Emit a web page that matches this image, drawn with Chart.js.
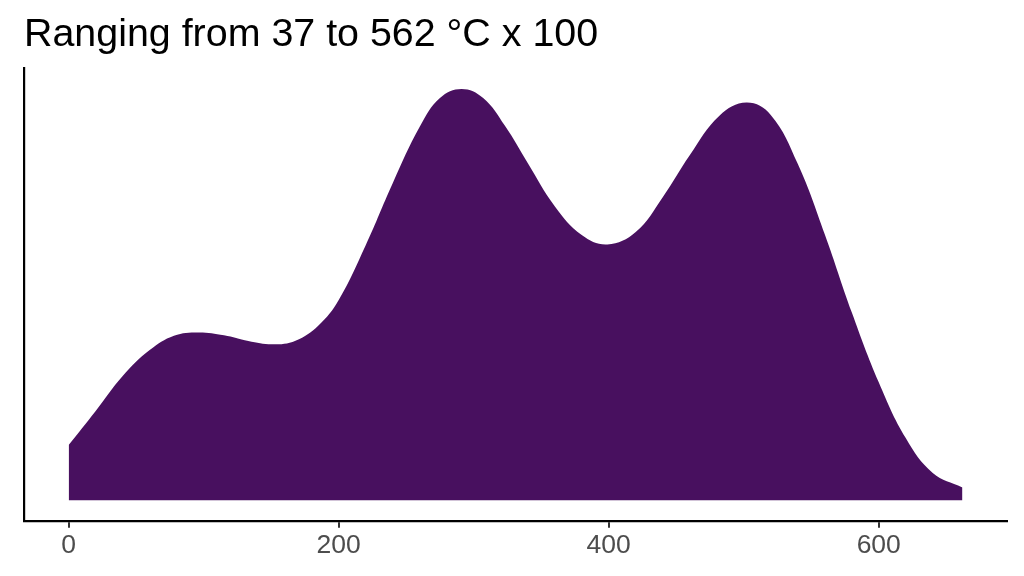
<!DOCTYPE html>
<html>
<head>
<meta charset="utf-8">
<script src="https://cdn.jsdelivr.net/npm/chart.js@4"></script>
<style>
  html, body { margin: 0; padding: 0; background: #fff; }
  #wrap { width: 1024px; height: 576px; }
</style>
</head>
<body>
<div id="wrap"><canvas id="myChart" width="1024" height="576"></canvas></div>
<script>
// temperature (x) and relative density (peak = 1)
const temps = [0, 20, 40, 60, 78, 96, 115, 133, 151, 168, 185, 200, 220, 240, 260, 275, 291,
  307, 323, 340, 360, 380, 399, 420, 440, 460, 482, 502, 520, 540, 560, 580, 600, 620, 640, 662];
const density = [0.134, 0.217, 0.302, 0.365, 0.400, 0.408, 0.401, 0.387, 0.379, 0.388, 0.425,
  0.487, 0.620, 0.771, 0.908, 0.978, 1.0, 0.978, 0.911, 0.820, 0.715, 0.645, 0.622, 0.652,
  0.737, 0.839, 0.935, 0.967, 0.937, 0.818, 0.647, 0.457, 0.287, 0.151, 0.066, 0.031];
const xTicks = [0, 200, 400, 600];
const titleText = 'Ranging from 37 to 562 °C x 100';

const points = temps.map((t, i) => ({ x: t, y: density[i] }));

const ctx = document.getElementById('myChart').getContext('2d');

new Chart(ctx, {
  type: 'line',
  data: {
    datasets: [{
      data: points,
      backgroundColor: '#48105F',
      borderColor: '#48105F',
      borderWidth: 0,
      pointRadius: 0,
      fill: 'origin',
      tension: 0.4
    }]
  },
  options: {
    responsive: false,
    animation: false,
    devicePixelRatio: 1,
    layout: { padding: { left: 24, right: 17, top: 0, bottom: 0 } },
    plugins: {
      legend: { display: false },
      tooltip: { enabled: false },
      title: {
        display: true,
        text: titleText,
        align: 'start',
        color: '#000',
        font: { family: 'Liberation Sans', size: 39.4, weight: 'normal', lineHeight: 1.2 },
        padding: { top: 11.5, bottom: 9.7 }
      }
    },
    scales: {
      x: {
        type: 'linear',
        min: -33.1,
        max: 695,
        afterBuildTicks: s => { s.ticks = xTicks.map(v => ({ value: v })); },
        afterFit: s => { s.height = 55.3; },
        grid: { display: true, drawOnChartArea: false, drawTicks: true, tickLength: 7, color: '#333333', lineWidth: 2 },
        border: { display: true, color: '#000', width: 2.2 },
        ticks: {
          color: '#4D4D4D',
          padding: 2,
          maxRotation: 0,
          font: { family: 'Liberation Sans', size: 26.5 }
        }
      },
      y: {
        min: -0.05,
        max: 1.05,
        afterFit: s => { s.width = 0; },
        grid: { display: false },
        border: { display: true, color: '#000', width: 2.2 },
        ticks: { display: false }
      }
    }
  }
});
</script>
</body>
</html>
